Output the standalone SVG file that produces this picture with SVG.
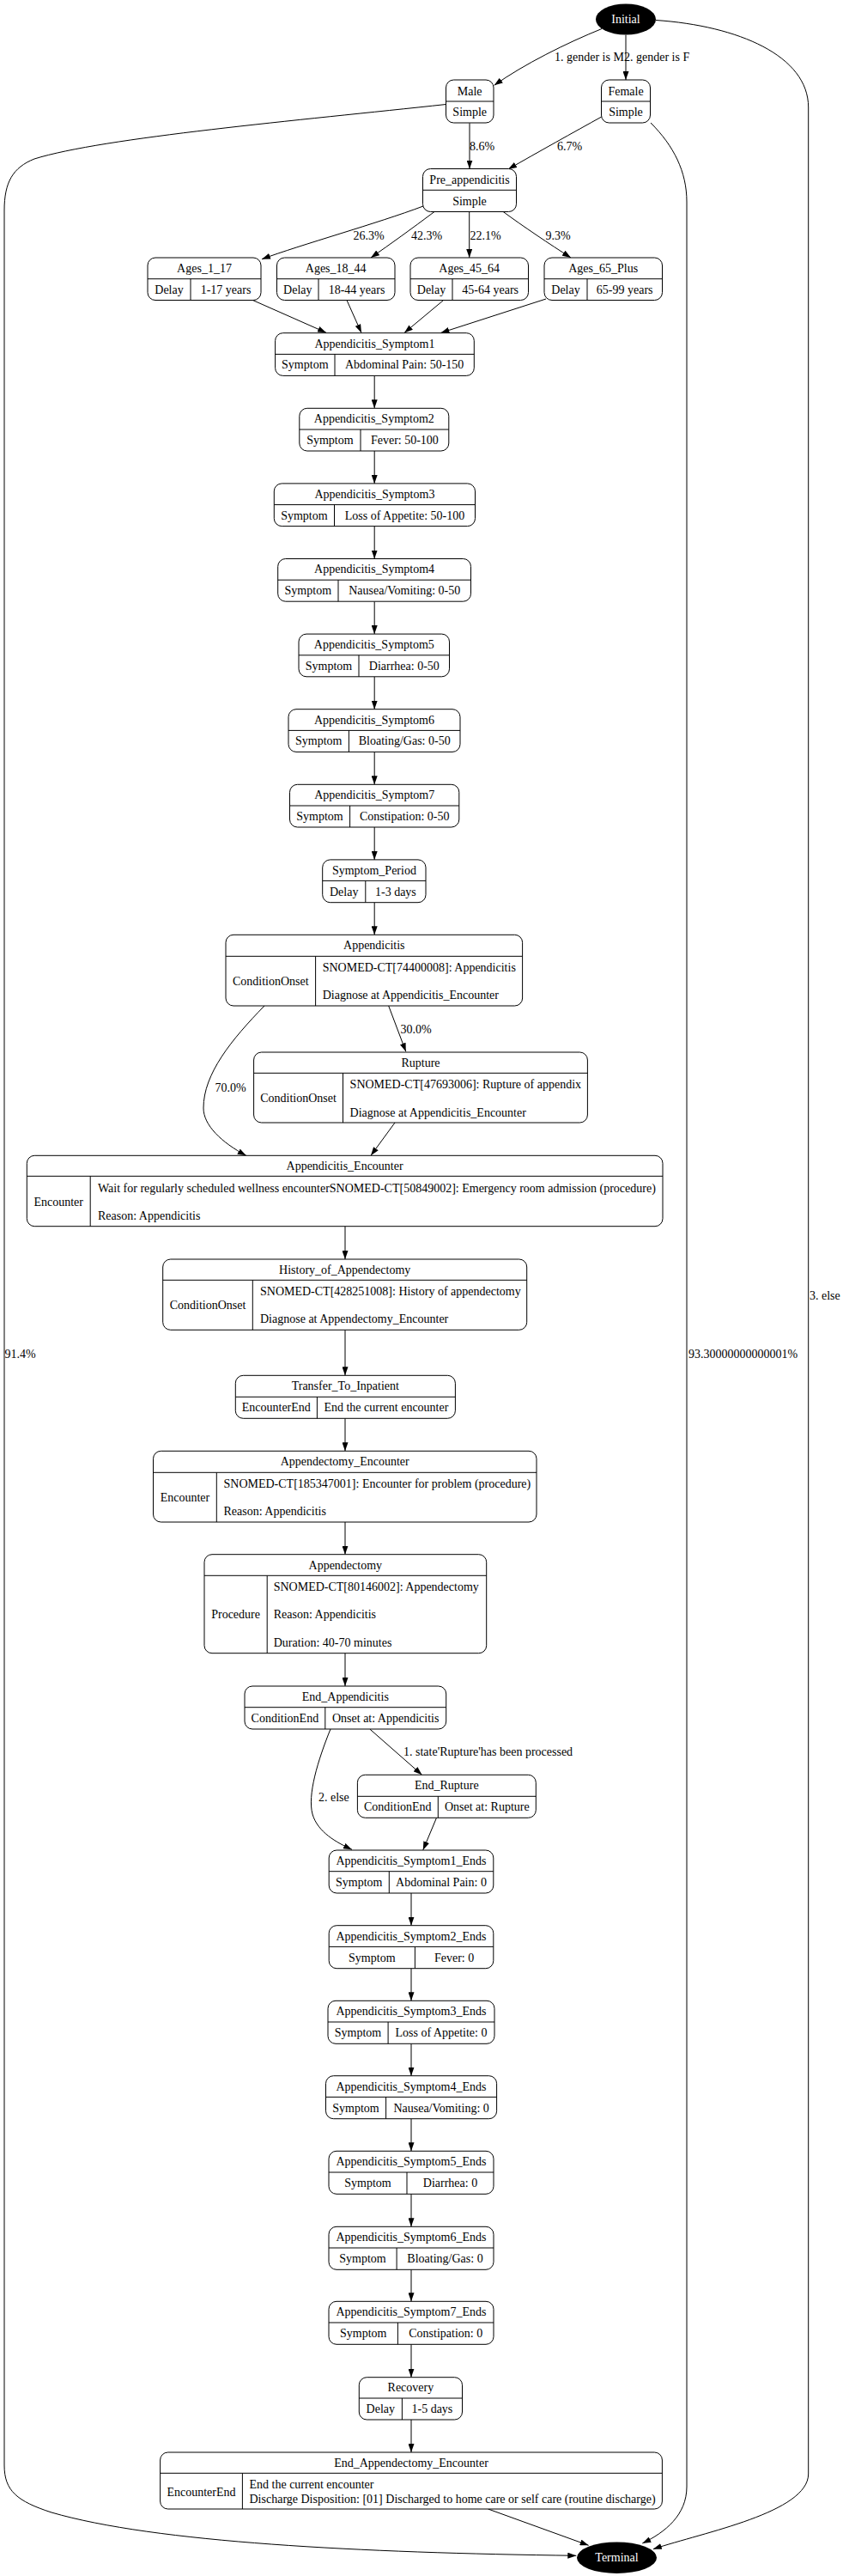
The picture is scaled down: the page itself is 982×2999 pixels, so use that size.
<svg xmlns="http://www.w3.org/2000/svg" width="982" height="2999" viewBox="0 0 982 2999">
<style>
text{font-family:"Liberation Serif","Times New Roman",serif;font-size:14px;fill:#000}
.c{text-anchor:middle}
.n rect{fill:#fff;stroke:#000;stroke-width:1}
.n line{stroke:#000;stroke-width:1}
.e path{fill:none;stroke:#000;stroke-width:1;marker-end:url(#a)}
.w{fill:#fff}
</style>
<defs>
<marker id="a" markerUnits="userSpaceOnUse" markerWidth="10" markerHeight="7" refX="10" refY="3.5" orient="auto">
<path d="M0,0 L10,3.5 L0,7 z" fill="#000"/>
</marker>
</defs>
<rect width="982" height="2999" fill="#fff"/>

<g id="edges" class="e">
<path d="M701,33.5 C660,50 610,75 575.7,99.3"/>
<path d="M729,40.7 L729,93"/>
<path d="M764,23.5 C860,30 941.7,65 941.7,125 L941.7,2880 C941.7,2925 820,2948 760.8,2967.7"/>
<path d="M547,143.3 L547,196.5"/>
<path d="M700.7,136 C670,153 625,178 592,197"/>
<path d="M758,143 C785,170 800,200 800,235 L800,2895 C800,2928 775,2948 748.3,2961"/>
<path d="M519.5,121.5 C350,140 120,160 40,185 C15,195 5,212 5,245 L5,2870 C5,2900 20,2912 60,2925 C180,2960 420,2972 671.3,2975.3"/>
<path d="M493,240 C440,260 350,285 305,301.7"/>
<path d="M506,246.5 C480,266 455,284 432,300"/>
<path d="M546.7,246.5 L546.7,300"/>
<path d="M585.5,246 C610,264 640,284 665,300"/>
<path d="M294,349.3 L380,387.3"/>
<path d="M404,349.5 L421,387.5"/>
<path d="M516.6,349.5 L471,387.5"/>
<path d="M636,348 L513.5,387.5"/>
<path d="M436.2,437.4 L436.2,475.3"/>
<path d="M436.2,525 L436.2,562.9"/>
<path d="M436.2,612.6 L436.2,650.5"/>
<path d="M436.2,700.2 L436.2,738.1"/>
<path d="M436.2,787.8 L436.2,825.7"/>
<path d="M436.2,875.4 L436.2,913.3"/>
<path d="M436.2,963 L436.2,1000.9"/>
<path d="M436.2,1050.7 L436.2,1088.3"/>
<path d="M452.7,1171 L472.8,1224.3"/>
<path d="M308,1171 C270,1210 237,1250 237,1290 C237,1310 258,1330 286.8,1345.3"/>
<path d="M460,1307 L432,1345.3"/>
<path d="M402,1427.7 L402,1466"/>
<path d="M402,1548.3 L402,1601.3"/>
<path d="M402,1651.3 L402,1689.3"/>
<path d="M402,1772 L402,1809.7"/>
<path d="M402,1924.7 L402,1963"/>
<path d="M430.8,2013 L491.5,2066.3"/>
<path d="M385,2013 C370,2050 358,2090 364,2112 C370,2133 392,2145 410,2153.3"/>
<path d="M508.5,2116.3 L492.8,2153.8"/>
<path d="M479,2204 L479,2241.7"/>
<path d="M479,2291.7 L479,2329.3"/>
<path d="M479,2379.3 L479,2416.7"/>
<path d="M479,2466.7 L479,2504.3"/>
<path d="M479,2554.3 L479,2592.3"/>
<path d="M479,2642.3 L479,2679.3"/>
<path d="M479,2729.3 L479,2767.7"/>
<path d="M479,2817 L479,2855"/>
<path d="M568.6,2921 L685.6,2963.3"/>
</g>

<g id="edge-labels">
<text x="646" y="71">1. gender is M</text>
<text x="727" y="71">2. gender is F</text>
<text x="547" y="174.5">8.6%</text>
<text class="c" x="663.7" y="174.5">6.7%</text>
<text class="c" x="429.5" y="278.5">26.3%</text>
<text class="c" x="497" y="278.5">42.3%</text>
<text x="547.5" y="278.5">22.1%</text>
<text class="c" x="650" y="278.5">9.3%</text>
<text class="c" x="484.7" y="1202.8">30.0%</text>
<text class="c" x="268.6" y="1271.2">70.0%</text>
<text x="943" y="1512.8">3. else</text>
<text x="5.5" y="1580.5">91.4%</text>
<text x="802" y="1580.5">93.30000000000001%</text>
<text x="470" y="2044.2">1. state'Rupture'has been processed</text>
<text x="371" y="2096.5">2. else</text>
</g>

<g id="Initial">
<ellipse cx="729" cy="22.5" rx="35" ry="18" fill="#000"/>
<text class="c w" x="729" y="27">Initial</text>
</g>
<g id="Terminal">
<ellipse cx="718.5" cy="2977.7" rx="46.5" ry="18.3" fill="#000"/>
<text class="c w" x="718.5" y="2982.2">Terminal</text>
</g>

<g id="Male" class="n">
<rect x="519.5" y="93" width="55.5" height="50" rx="9"/>
<line x1="519.5" y1="118" x2="575" y2="118"/>
<text class="c" x="547.2" y="110.5">Male</text>
<text class="c" x="547.2" y="135">Simple</text>
</g>
<g id="Female" class="n">
<rect x="700.5" y="93" width="57" height="50" rx="9"/>
<line x1="700.5" y1="118" x2="757.5" y2="118"/>
<text class="c" x="729" y="110.5">Female</text>
<text class="c" x="729" y="135">Simple</text>
</g>
<g id="Pre_appendicitis" class="n">
<rect x="492.5" y="196.5" width="109" height="50" rx="9"/>
<line x1="492.5" y1="221.3" x2="601.5" y2="221.3"/>
<text class="c" x="547" y="213.5">Pre_appendicitis</text>
<text class="c" x="547" y="238.5">Simple</text>
</g>

<g id="Ages_1_17" class="n">
<rect x="172" y="300" width="132" height="49.5" rx="9"/>
<line x1="172" y1="324.7" x2="304" y2="324.7"/>
<line x1="222" y1="324.7" x2="222" y2="349.5"/>
<text class="c" x="238" y="316.8">Ages_1_17</text>
<text class="c" x="197" y="341.6">Delay</text>
<text class="c" x="263" y="341.6">1-17 years</text>
</g>
<g id="Ages_18_44" class="n">
<rect x="322.5" y="300" width="137.5" height="49.5" rx="9"/>
<line x1="322.5" y1="324.7" x2="460" y2="324.7"/>
<line x1="371" y1="324.7" x2="371" y2="349.5"/>
<text class="c" x="391.2" y="316.8">Ages_18_44</text>
<text class="c" x="346.8" y="341.6">Delay</text>
<text class="c" x="415.5" y="341.6">18-44 years</text>
</g>
<g id="Ages_45_64" class="n">
<rect x="478" y="300" width="137.5" height="49.5" rx="9"/>
<line x1="478" y1="324.7" x2="615.5" y2="324.7"/>
<line x1="527" y1="324.7" x2="527" y2="349.5"/>
<text class="c" x="546.7" y="316.8">Ages_45_64</text>
<text class="c" x="502.5" y="341.6">Delay</text>
<text class="c" x="571.2" y="341.6">45-64 years</text>
</g>
<g id="Ages_65_Plus" class="n">
<rect x="634" y="300" width="137.5" height="49.5" rx="9"/>
<line x1="634" y1="324.7" x2="771.5" y2="324.7"/>
<line x1="684" y1="324.7" x2="684" y2="349.5"/>
<text class="c" x="702.7" y="316.8">Ages_65_Plus</text>
<text class="c" x="659" y="341.6">Delay</text>
<text class="c" x="727.7" y="341.6">65-99 years</text>
</g>

<g id="Appendicitis_Symptom1" class="n">
<rect x="320.6" y="387.7" width="231.7" height="49.7" rx="9"/>
<line x1="320.6" y1="412.4" x2="552.3" y2="412.4"/>
<line x1="390" y1="412.4" x2="390" y2="437.4"/>
<text class="c" x="436.4" y="404.5">Appendicitis_Symptom1</text>
<text class="c" x="355.3" y="429.4">Symptom</text>
<text class="c" x="471.1" y="429.4">Abdominal Pain: 50-150</text>
</g>
<g id="Appendicitis_Symptom2" class="n">
<rect x="348.8" y="475.3" width="174" height="49.7" rx="9"/>
<line x1="348.8" y1="500" x2="522.8" y2="500"/>
<line x1="420" y1="500" x2="420" y2="525"/>
<text class="c" x="435.8" y="492.1">Appendicitis_Symptom2</text>
<text class="c" x="384.4" y="517">Symptom</text>
<text class="c" x="471.4" y="517">Fever: 50-100</text>
</g>
<g id="Appendicitis_Symptom3" class="n">
<rect x="319.3" y="562.9" width="234.2" height="49.7" rx="9"/>
<line x1="319.3" y1="587.6" x2="553.5" y2="587.6"/>
<line x1="389.5" y1="587.6" x2="389.5" y2="612.6"/>
<text class="c" x="436.4" y="579.7">Appendicitis_Symptom3</text>
<text class="c" x="354.4" y="604.6">Symptom</text>
<text class="c" x="471.5" y="604.6">Loss of Appetite: 50-100</text>
</g>
<g id="Appendicitis_Symptom4" class="n">
<rect x="323.7" y="650.5" width="224.8" height="49.7" rx="9"/>
<line x1="323.7" y1="675.2" x2="548.5" y2="675.2"/>
<line x1="394" y1="675.2" x2="394" y2="700.2"/>
<text class="c" x="436.1" y="667.3">Appendicitis_Symptom4</text>
<text class="c" x="358.8" y="692.2">Symptom</text>
<text class="c" x="471.2" y="692.2">Nausea/Vomiting: 0-50</text>
</g>
<g id="Appendicitis_Symptom5" class="n">
<rect x="348" y="738.1" width="175.5" height="49.7" rx="9"/>
<line x1="348" y1="762.8" x2="523.5" y2="762.8"/>
<line x1="418" y1="762.8" x2="418" y2="787.8"/>
<text class="c" x="435.8" y="754.9">Appendicitis_Symptom5</text>
<text class="c" x="383" y="779.8">Symptom</text>
<text class="c" x="470.8" y="779.8">Diarrhea: 0-50</text>
</g>
<g id="Appendicitis_Symptom6" class="n">
<rect x="336" y="825.7" width="200" height="49.7" rx="9"/>
<line x1="336" y1="850.4" x2="536" y2="850.4"/>
<line x1="406.4" y1="850.4" x2="406.4" y2="875.4"/>
<text class="c" x="436" y="842.5">Appendicitis_Symptom6</text>
<text class="c" x="371.2" y="867.4">Symptom</text>
<text class="c" x="471.2" y="867.4">Bloating/Gas: 0-50</text>
</g>
<g id="Appendicitis_Symptom7" class="n">
<rect x="337.5" y="913.3" width="197.3" height="49.7" rx="9"/>
<line x1="337.5" y1="938" x2="534.8" y2="938"/>
<line x1="407.6" y1="938" x2="407.6" y2="963"/>
<text class="c" x="436.2" y="930.1">Appendicitis_Symptom7</text>
<text class="c" x="372.5" y="955">Symptom</text>
<text class="c" x="471.2" y="955">Constipation: 0-50</text>
</g>
<g id="Symptom_Period" class="n">
<rect x="375.7" y="1000.9" width="120.3" height="49.8" rx="9"/>
<line x1="375.7" y1="1025.4" x2="496" y2="1025.4"/>
<line x1="425.8" y1="1025.4" x2="425.8" y2="1050.7"/>
<text class="c" x="435.9" y="1017.6">Symptom_Period</text>
<text class="c" x="400.7" y="1042.6">Delay</text>
<text class="c" x="460.9" y="1042.6">1-3 days</text>
</g>

<g id="Appendicitis" class="n">
<rect x="263" y="1088.3" width="345.6" height="82.7" rx="9"/>
<line x1="263" y1="1113.3" x2="608.6" y2="1113.3"/>
<line x1="367.6" y1="1113.3" x2="367.6" y2="1171"/>
<text class="c" x="435.8" y="1105.3">Appendicitis</text>
<text class="c" x="315.3" y="1147.2">ConditionOnset</text>
<text x="375.7" y="1130.5">SNOMED-CT[74400008]: Appendicitis</text>
<text x="375.7" y="1163.2">Diagnose at Appendicitis_Encounter</text>
</g>
<g id="Rupture" class="n">
<rect x="295.6" y="1225" width="388.8" height="82" rx="9"/>
<line x1="295.6" y1="1249.3" x2="684.4" y2="1249.3"/>
<line x1="399.5" y1="1249.3" x2="399.5" y2="1307"/>
<text class="c" x="490" y="1241.6">Rupture</text>
<text class="c" x="347.5" y="1282.8">ConditionOnset</text>
<text x="407.6" y="1266.8">SNOMED-CT[47693006]: Rupture of appendix</text>
<text x="407.6" y="1299.5">Diagnose at Appendicitis_Encounter</text>
</g>
<g id="Appendicitis_Encounter" class="n">
<rect x="31.3" y="1345.3" width="740.7" height="82.4" rx="9"/>
<line x1="31.3" y1="1369.3" x2="772" y2="1369.3"/>
<line x1="105.2" y1="1369.3" x2="105.2" y2="1427.7"/>
<text class="c" x="401.6" y="1361.8">Appendicitis_Encounter</text>
<text class="c" x="68.2" y="1403.5">Encounter</text>
<text x="114" y="1387.5">Wait for regularly scheduled wellness encounterSNOMED-CT[50849002]: Emergency room admission (procedure)</text>
<text x="114" y="1419.5">Reason: Appendicitis</text>
</g>
<g id="History_of_Appendectomy" class="n">
<rect x="189.7" y="1466" width="424" height="82.3" rx="9"/>
<line x1="189.7" y1="1490.3" x2="613.7" y2="1490.3"/>
<line x1="294.3" y1="1490.3" x2="294.3" y2="1548.3"/>
<text class="c" x="401.7" y="1482.6">History_of_Appendectomy</text>
<text class="c" x="242" y="1523.8">ConditionOnset</text>
<text x="303" y="1507.8">SNOMED-CT[428251008]: History of appendectomy</text>
<text x="303" y="1539.8">Diagnose at Appendectomy_Encounter</text>
</g>
<g id="Transfer_To_Inpatient" class="n">
<rect x="274.3" y="1601.3" width="256.1" height="50" rx="9"/>
<line x1="274.3" y1="1626.3" x2="530.4" y2="1626.3"/>
<line x1="369.4" y1="1626.3" x2="369.4" y2="1651.3"/>
<text class="c" x="402.3" y="1618.3">Transfer_To_Inpatient</text>
<text class="c" x="321.8" y="1643.3">EncounterEnd</text>
<text class="c" x="449.9" y="1643.3">End the current encounter</text>
</g>
<g id="Appendectomy_Encounter" class="n">
<rect x="178.5" y="1689.3" width="446.5" height="82.7" rx="9"/>
<line x1="178.5" y1="1714.3" x2="625" y2="1714.3"/>
<line x1="252.3" y1="1714.3" x2="252.3" y2="1772"/>
<text class="c" x="401.7" y="1706.3">Appendectomy_Encounter</text>
<text class="c" x="215.4" y="1747.8">Encounter</text>
<text x="260.5" y="1731.5">SNOMED-CT[185347001]: Encounter for problem (procedure)</text>
<text x="260.5" y="1763.8">Reason: Appendicitis</text>
</g>
<g id="Appendectomy" class="n">
<rect x="238" y="1809.7" width="328.7" height="115" rx="9"/>
<line x1="238" y1="1834.3" x2="566.7" y2="1834.3"/>
<line x1="311.2" y1="1834.3" x2="311.2" y2="1924.7"/>
<text class="c" x="402.3" y="1826.5">Appendectomy</text>
<text class="c" x="274.6" y="1884.2">Procedure</text>
<text x="318.7" y="1851.8">SNOMED-CT[80146002]: Appendectomy</text>
<text x="318.7" y="1884.2">Reason: Appendicitis</text>
<text x="318.7" y="1916.8">Duration: 40-70 minutes</text>
</g>
<g id="End_Appendicitis" class="n">
<rect x="285" y="1963" width="234.7" height="50" rx="9"/>
<line x1="285" y1="1987.7" x2="519.7" y2="1987.7"/>
<line x1="378.8" y1="1987.7" x2="378.8" y2="2013"/>
<text class="c" x="402.3" y="1979.8">End_Appendicitis</text>
<text class="c" x="331.9" y="2005">ConditionEnd</text>
<text class="c" x="449.2" y="2005">Onset at: Appendicitis</text>
</g>
<g id="End_Rupture" class="n">
<rect x="416.4" y="2066.3" width="207.9" height="50" rx="9"/>
<line x1="416.4" y1="2091.3" x2="624.3" y2="2091.3"/>
<line x1="510.3" y1="2091.3" x2="510.3" y2="2116.3"/>
<text class="c" x="520.3" y="2083.3">End_Rupture</text>
<text class="c" x="463.3" y="2108.3">ConditionEnd</text>
<text class="c" x="567.3" y="2108.3">Onset at: Rupture</text>
</g>

<g id="Appendicitis_Symptom1_Ends" class="n">
<rect x="383.2" y="2154" width="191.6" height="50" rx="9"/>
<line x1="383.2" y1="2178.7" x2="574.8" y2="2178.7"/>
<line x1="453.3" y1="2178.7" x2="453.3" y2="2204"/>
<text class="c" x="479" y="2170.8">Appendicitis_Symptom1_Ends</text>
<text class="c" x="418.2" y="2196">Symptom</text>
<text class="c" x="514" y="2196">Abdominal Pain: 0</text>
</g>
<g id="Appendicitis_Symptom2_Ends" class="n">
<rect x="383.2" y="2241.7" width="191.6" height="50" rx="9"/>
<line x1="383.2" y1="2266.4" x2="574.8" y2="2266.4"/>
<line x1="483.4" y1="2266.4" x2="483.4" y2="2291.7"/>
<text class="c" x="479" y="2258.5">Appendicitis_Symptom2_Ends</text>
<text class="c" x="433.3" y="2283.7">Symptom</text>
<text class="c" x="529.1" y="2283.7">Fever: 0</text>
</g>
<g id="Appendicitis_Symptom3_Ends" class="n">
<rect x="382" y="2329.3" width="194" height="50" rx="9"/>
<line x1="382" y1="2354" x2="576" y2="2354"/>
<line x1="452.1" y1="2354" x2="452.1" y2="2379.3"/>
<text class="c" x="479" y="2346.1">Appendicitis_Symptom3_Ends</text>
<text class="c" x="417" y="2371.3">Symptom</text>
<text class="c" x="514" y="2371.3">Loss of Appetite: 0</text>
</g>
<g id="Appendicitis_Symptom4_Ends" class="n">
<rect x="379.5" y="2416.7" width="199.1" height="50" rx="9"/>
<line x1="379.5" y1="2441.4" x2="578.6" y2="2441.4"/>
<line x1="449.6" y1="2441.4" x2="449.6" y2="2466.7"/>
<text class="c" x="479" y="2433.5">Appendicitis_Symptom4_Ends</text>
<text class="c" x="414.5" y="2458.7">Symptom</text>
<text class="c" x="514.1" y="2458.7">Nausea/Vomiting: 0</text>
</g>
<g id="Appendicitis_Symptom5_Ends" class="n">
<rect x="383" y="2504.3" width="192" height="50" rx="9"/>
<line x1="383" y1="2529" x2="575" y2="2529"/>
<line x1="474" y1="2529" x2="474" y2="2554.3"/>
<text class="c" x="479" y="2521.1">Appendicitis_Symptom5_Ends</text>
<text class="c" x="428.5" y="2546.3">Symptom</text>
<text class="c" x="524.5" y="2546.3">Diarrhea: 0</text>
</g>
<g id="Appendicitis_Symptom6_Ends" class="n">
<rect x="383" y="2592.3" width="192" height="50" rx="9"/>
<line x1="383" y1="2617" x2="575" y2="2617"/>
<line x1="462.1" y1="2617" x2="462.1" y2="2642.3"/>
<text class="c" x="479" y="2609.1">Appendicitis_Symptom6_Ends</text>
<text class="c" x="422.5" y="2634.3">Symptom</text>
<text class="c" x="518.5" y="2634.3">Bloating/Gas: 0</text>
</g>
<g id="Appendicitis_Symptom7_Ends" class="n">
<rect x="383" y="2679.3" width="192" height="50" rx="9"/>
<line x1="383" y1="2704" x2="575" y2="2704"/>
<line x1="463.4" y1="2704" x2="463.4" y2="2729.3"/>
<text class="c" x="479" y="2696.1">Appendicitis_Symptom7_Ends</text>
<text class="c" x="423.2" y="2721.3">Symptom</text>
<text class="c" x="519.2" y="2721.3">Constipation: 0</text>
</g>
<g id="Recovery" class="n">
<rect x="418.3" y="2767.7" width="120.2" height="49.3" rx="9"/>
<line x1="418.3" y1="2792" x2="538.5" y2="2792"/>
<line x1="468.4" y1="2792" x2="468.4" y2="2817"/>
<text class="c" x="478.4" y="2784.4">Recovery</text>
<text class="c" x="443.3" y="2809">Delay</text>
<text class="c" x="503.4" y="2809">1-5 days</text>
</g>
<g id="End_Appendectomy_Encounter" class="n">
<rect x="186.6" y="2855" width="584.8" height="66" rx="9"/>
<line x1="186.6" y1="2879.3" x2="771.4" y2="2879.3"/>
<line x1="282.4" y1="2879.3" x2="282.4" y2="2921"/>
<text class="c" x="479" y="2871.6">End_Appendectomy_Encounter</text>
<text class="c" x="234.5" y="2905.5">EncounterEnd</text>
<text x="290.5" y="2896.5">End the current encounter</text>
<text x="290.5" y="2913.8">Discharge Disposition: [01] Discharged to home care or self care (routine discharge)</text>
</g>
</svg>
